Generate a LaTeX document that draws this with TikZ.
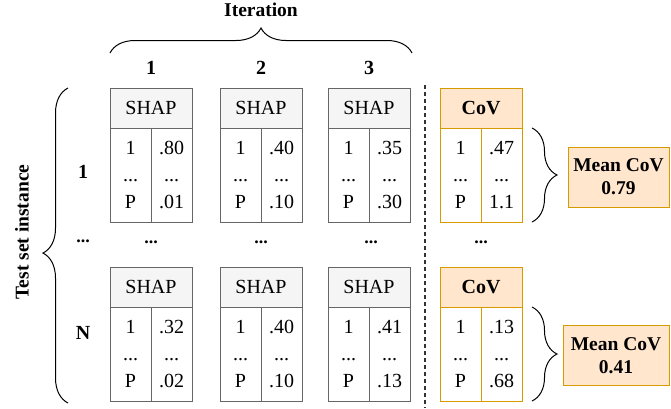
\documentclass[tikz,border=0pt]{standalone}
\usepackage{fontspec}
\setmainfont{Liberation Serif}
\usetikzlibrary{decorations.pathreplacing}

\definecolor{shapfill}{HTML}{F5F5F5}
\definecolor{shapline}{HTML}{666666}
\definecolor{covfill}{HTML}{FFE6CC}
\definecolor{covline}{HTML}{D79B00}

\tikzset{
  every node/.style={inner sep=0pt, outer sep=0pt},
  tablehead/.style={minimum width=82pt, minimum height=40pt, line width=1pt},
  shaphead/.style={tablehead, draw=shapline, fill=shapfill, font=\fontsize{20}{24}\selectfont},
  covhead/.style={tablehead, draw=covline, fill=covfill, font=\bfseries\fontsize{20}{24}\selectfont},
  tablecell/.style={minimum width=41pt, minimum height=94pt, line width=1pt, align=center,
    font=\fontsize{20}{27}\selectfont},
  shapcell/.style={tablecell, draw=shapline, fill=white},
  covcell/.style={tablecell, draw=covline, fill=white},
  meanbox/.style={draw=covline, fill=covfill, line width=1pt, align=center,
    minimum height=60pt, font=\bfseries\fontsize{19.5}{23}\selectfont},
  biglabel/.style={font=\bfseries\fontsize{20}{24}\selectfont},
  axislabel/.style={font=\bfseries\fontsize{19.5}{22}\selectfont},
  gapdots/.style={font=\bfseries\fontsize{18}{20}\selectfont},
  curly/.style={decorate, decoration={brace, amplitude=25pt}, line width=1pt},
  divider/.style={draw=black!80, line width=1.2pt, dash pattern=on 4pt off 3pt}
}

% #1 name, #2 centre x, #3 top y, #4 kind (shap/cov), #5 header text,
% #6 first value, #7 last value
\newcommand\valtable[7]{%
  \node[#4head, anchor=north] (#1h) at (#2,#3) {#5};
  \node[#4cell, anchor=north east] (#1l) at (#1h.south) {1\\...\\P};
  \node[#4cell, anchor=north west] (#1r) at (#1h.south) {#6\\...\\#7};
}

\begin{document}
\begin{tikzpicture}[x=1pt, y=-1pt]
  \useasboundingbox (0,0) rectangle (671,408);

  % iteration axis
  \coordinate (itl) at (110,53);
  \coordinate (itr) at (412,53);
  \draw[curly] (itl) -- (itr);
  \node[axislabel] (iter) at (261,10) {Iteration};
  \node[biglabel] (c1) at (151,68) {1};
  \node[biglabel] (c2) at (261,68) {2};
  \node[biglabel] (c3) at (369,68) {3};

  % instance axis
  \coordinate (inb) at (68,403);
  \coordinate (int) at (68,88);
  \draw[curly, decoration={aspect=0.476}] (inb) -- (int);
  \node[axislabel, rotate=90] (inst) at (22,232) {Test set instance};
  \node[biglabel] (r1) at (83,172) {1};
  \node[gapdots] (rdots) at (83,241) {...};
  \node[biglabel] (rN) at (83,333) {N};

  % first test instance
  \valtable{a1}{151}{88}{shap}{SHAP}{.80}{.01}
  \valtable{a2}{261}{88}{shap}{SHAP}{.40}{.10}
  \valtable{a3}{369}{88}{shap}{SHAP}{.35}{.30}
  \valtable{ac}{481}{88}{cov}{CoV}{.47}{1.1}

  % gap between instances
  \node[gapdots] (d1) at (151,242) {...};
  \node[gapdots] (d2) at (261,242) {...};
  \node[gapdots] (d3) at (371,242) {...};
  \node[gapdots] (dc) at (481,242) {...};

  % last test instance
  \valtable{b1}{151}{267}{shap}{SHAP}{.32}{.02}
  \valtable{b2}{261}{267}{shap}{SHAP}{.40}{.10}
  \valtable{b3}{369}{267}{shap}{SHAP}{.41}{.13}
  \valtable{bc}{481}{267}{cov}{CoV}{.13}{.68}

  % separator between SHAP and CoV columns
  \coordinate (sept) at (425,85);
  \coordinate (sepb) at (425,408);
  \draw[divider] (sept) -- (sepb);

  % mean CoV per instance
  \draw[curly] (acr.north east) ++(10pt,0) coordinate (ab1) -- (acr.south east -| ab1) coordinate (ab2);
  \node[meanbox, minimum width=101pt] (m1) at (618.5,177) {Mean CoV\\0.79};
  \draw[curly] (bcr.north east) ++(10pt,0) coordinate (bb1) -- (bcr.south east -| bb1) coordinate (bb2);
  \node[meanbox, minimum width=106pt] (m2) at (616,355.5) {Mean CoV\\0.41};
\end{tikzpicture}
\end{document}
